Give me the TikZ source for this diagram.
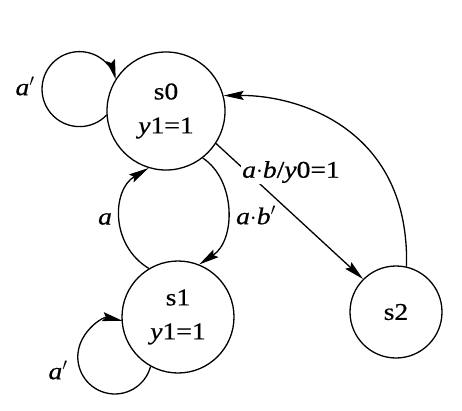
\documentclass[tikz,border=0pt]{standalone}
\usepackage{fontspec}
\setmainfont{Liberation Serif}[FakeStretch=1.15,FakeBold=0.6]
\usetikzlibrary{arrows.meta}
\begin{document}
\begin{tikzpicture}[x=1pt,y=-1pt,
  every node/.style={font=\fontsize{24}{34}\selectfont},
  state/.style={draw,circle,line width=1.3pt,inner sep=0pt,align=center},
  edge/.style={line width=1.3pt,-{Stealth[length=20pt,width=9pt,inset=3pt]}},
  lbl/.style={inner sep=1pt}]
\useasboundingbox (0,0) rectangle (462,411);
\node[state,minimum size=118pt] (s0) at (166,111) {s0\\\textit{y}1=1};
\node[state,minimum size=112pt] (s1) at (178,317) {s1\\\textit{y}1=1};
\node[state,minimum size=92pt] (s2) at (396,312) {s2};
% self loops
\draw[edge] (s0.184) arc[start angle=-44,end angle=-345,radius=37.5pt];
\draw[edge] (s1.241) arc[start angle=-15,end angle=-282,radius=37pt];
% s1 -> s0
\draw[edge] (s1.121) .. controls (110,245) and (112,190) .. (s0.-107);
% s0 -> s1
\draw[edge] (s0.-52) .. controls (236,180) and (236,240) .. (s1.68);
% s0 -> s2
\draw[edge] (s0.-33) -- (s2.135);
% s2 -> s0
\draw[edge] (s2.77) .. controls (410,130) and (300,95) .. (s0.15);
% labels
\node[lbl] (l1) at (25,86) {\textit{a}$'$};
\node[lbl] (l2) at (58,370) {\textit{a}$'$};
\node[lbl] (l3) at (105,219) {\textit{a}};
\node[lbl] (l4) at (256,215) {\textit{a}$\cdot$\textit{b}$'$};
\node[lbl,fill=white] (l5) at (291,172) {\textit{a}$\cdot$\textit{b}/\textit{y}0=1};
\end{tikzpicture}
\end{document}
